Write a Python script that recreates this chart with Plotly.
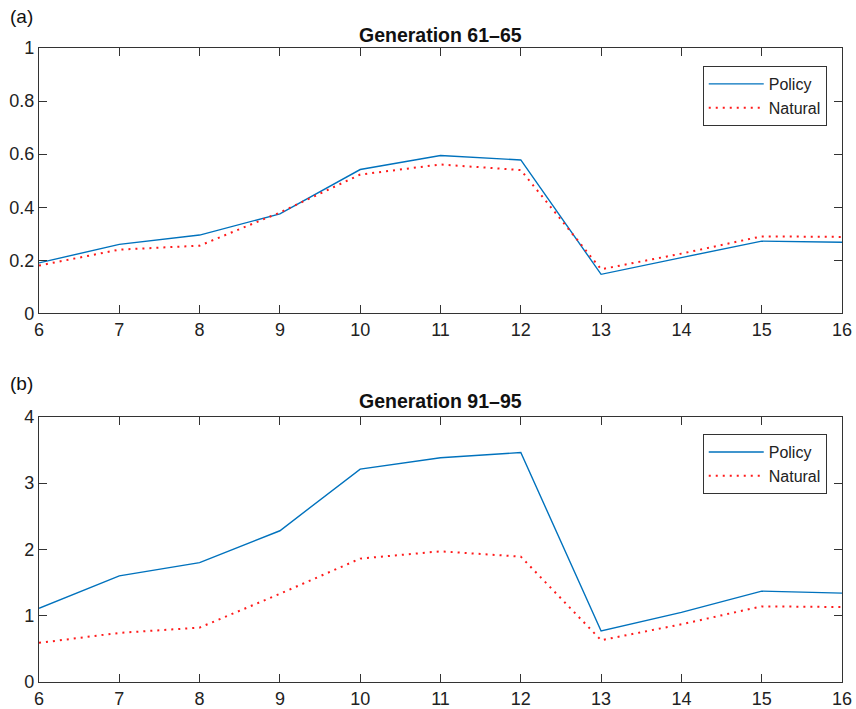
import plotly.graph_objects as go
from plotly.subplots import make_subplots

x_vals = [6, 7, 8, 9, 10, 11, 12, 13, 14, 15, 16]
policy_a = [0.19, 0.26, 0.295, 0.375, 0.542, 0.595, 0.578, 0.147, 0.21, 0.272, 0.268]
natural_a = [0.18, 0.24, 0.255, 0.38, 0.523, 0.561, 0.54, 0.166, 0.225, 0.29, 0.288]
policy_b = [1.11, 1.6, 1.8, 2.28, 3.21, 3.38, 3.46, 0.77, 1.05, 1.37, 1.34]
natural_b = [0.59, 0.74, 0.82, 1.33, 1.86, 1.97, 1.89, 0.63, 0.87, 1.14, 1.13]
title_a = "Generation 61\u201365"
title_b = "Generation 91\u201395"

FONT = "Liberation Sans, Arial, Helvetica, sans-serif"
BLUE = "#0072BD"
RED = "#FF1A1A"
AX = "#333333"
DOT = "2px,5px"

fig = make_subplots(rows=2, cols=1, vertical_spacing=0.163)

fig.add_trace(go.Scatter(x=x_vals, y=policy_a, mode="lines", name="Policy",
                         line=dict(color=BLUE, width=1.4), legend="legend"), row=1, col=1)
fig.add_trace(go.Scatter(x=x_vals, y=natural_a, mode="lines", name="Natural",
                         line=dict(color=RED, width=2, dash=DOT), legend="legend"), row=1, col=1)
fig.add_trace(go.Scatter(x=x_vals, y=policy_b, mode="lines", name="Policy",
                         line=dict(color=BLUE, width=1.4), legend="legend2"), row=2, col=1)
fig.add_trace(go.Scatter(x=x_vals, y=natural_b, mode="lines", name="Natural",
                         line=dict(color=RED, width=2, dash=DOT), legend="legend2"), row=2, col=1)

axis_common = dict(showline=True, linecolor=AX, linewidth=1.2, mirror="ticks",
                   ticks="inside", ticklen=8, tickcolor=AX, tickwidth=1,
                   showgrid=False, zeroline=False, automargin=False,
                   tickfont=dict(family=FONT, size=18, color="#222222"))

fig.update_xaxes(range=[6, 16], dtick=1, tick0=6, **axis_common)
fig.update_yaxes(**axis_common)
fig.update_yaxes(range=[0, 1], tickvals=[0, 0.2, 0.4, 0.6, 0.8, 1],
                 ticktext=["0", "0.2", "0.4", "0.6", "0.8", "1"], row=1, col=1)
fig.update_yaxes(range=[0, 4], dtick=1, row=2, col=1)

fig.update_layout(
    xaxis=dict(domain=[0, 1]), yaxis=dict(domain=[0.5815, 1]),
    xaxis2=dict(domain=[0, 1]), yaxis2=dict(domain=[0, 0.4185]),
)

legend_style = dict(bgcolor="white", bordercolor=AX, borderwidth=1,
                    font=dict(family=FONT, size=16, color="#222222"),
                    xanchor="right", yanchor="top", itemwidth=55,
                    tracegroupgap=0)
fig.update_layout(
    legend=dict(x=0.981, y=0.9716, **legend_style),
    legend2=dict(x=0.981, y=0.391, **legend_style),
)

annos = [
    dict(text="<b>" + title_a + "</b>", x=0.5, y=1.0205, size=19.5, xanchor="center"),
    dict(text="<b>" + title_b + "</b>", x=0.5, y=0.443, size=19.5, xanchor="center"),
    dict(text="(a)", x=-0.0386, y=1.049, size=19, xanchor="left"),
    dict(text="(b)", x=-0.0386, y=0.4716, size=19, xanchor="left"),
]
for a in annos:
    fig.add_annotation(text=a["text"], x=a["x"], y=a["y"], xref="paper", yref="paper",
                       xanchor=a["xanchor"], yanchor="middle", showarrow=False,
                       font=dict(family=FONT, size=a["size"], color="#111111"))

fig.update_layout(
    width=856, height=709,
    margin=dict(l=39, r=14, t=48, b=27),
    paper_bgcolor="white", plot_bgcolor="white",
    font=dict(family=FONT),
)

fig.write_html("out.html")
